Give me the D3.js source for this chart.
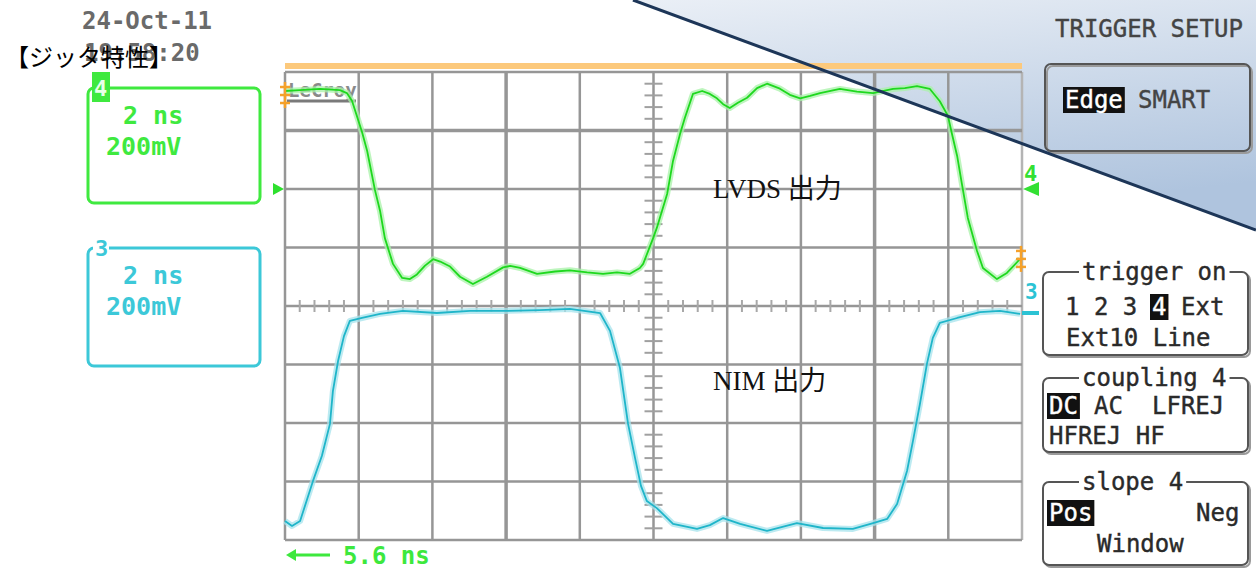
<!DOCTYPE html>
<html>
<head>
<meta charset="utf-8">
<script src="https://cdn.jsdelivr.net/npm/d3@7"></script>
<style>
  body { margin: 0; background: #fff; }
  svg { display: block; }
</style>
</head>
<body>
<svg id="scope"></svg>
<script>
// channel 4 (LVDS) : time in ns, volts in mV relative to its own ground
var ch4Time = [0.00, 0.41, 0.95, 1.49, 1.68, 1.82, 2.09, 2.23, 2.44, 2.58, 2.71, 2.93, 3.18, 3.39, 3.58, 3.80,
  4.02, 4.21, 4.48, 4.75, 5.10, 5.48, 5.92, 6.11, 6.38, 6.84, 7.33, 7.73, 8.20, 8.63, 9.01, 9.36, 9.63, 9.72,
  9.99, 10.09, 10.37, 10.53, 10.72, 10.85, 11.07, 11.32, 11.53, 11.72, 11.89, 12.07, 12.29, 12.54, 12.81,
  13.08, 13.43, 13.70, 13.98, 14.25, 14.52, 15.06, 15.52, 15.96, 16.50, 16.82, 17.15, 17.50, 17.77, 17.99,
  18.10, 18.24, 18.37, 18.53, 18.78, 18.94, 19.32, 19.59, 19.95];
var ch4Volt = [335, 338, 342, 338, 328, 301, 195, 130, -3, -75, -168, -256, -304, -308, -292, -262,
  -240, -248, -265, -300, -325, -300, -268, -263, -270, -290, -282, -278, -285, -290, -285, -290, -270, -256,
  -168, -133, -17, 96, 188, 243, 325, 335, 325, 310, 290, 277, 295, 312, 345,
  360, 343, 322, 310, 318, 328, 342, 333, 328, 342, 345, 352, 342, 300, 250,
  188, 113, 17, -99, -212, -270, -308, -287, -239];

// channel 3 (NIM)
var ch3Time = [0.00, 0.19, 0.41, 0.76, 1.00, 1.22, 1.30, 1.44, 1.60, 1.76, 2.09, 2.58, 3.20, 4.12, 5.02, 5.92,
  6.92, 7.73, 8.55, 8.82, 9.09, 9.31, 9.50, 9.66, 9.82, 10.09, 10.37, 10.53, 11.18, 11.53, 11.89, 12.35,
  13.08, 13.89, 14.60, 15.41, 15.96, 16.34, 16.61, 16.88, 17.04, 17.23, 17.42, 17.58, 17.77, 18.24, 18.86,
  19.40, 19.95];
var ch3Volt = [-735, -752, -735, -598, -513, -403, -291, -188, -103, -51, -41, -27, -17, -24, -17, -17,
  -14, -10, -24, -85, -212, -403, -520, -615, -667, -691, -725, -745, -762, -749, -725, -745,
  -769, -742, -759, -762, -742, -728, -677, -564, -462, -335, -198, -109, -58, -41, -21,
  -17, -27];

var ch4Offset = 400, ch3Offset = 0;     // mV on screen
var timeDiv = 2, voltDiv = 200;          // 2 ns/div, 200 mV/div
var xDivs = 10, yDivs = 8;
var trigLevel = -239;                    // ch4 trigger level, mV

var dateText = "24-Oct-11", clockText = "19:58:20";
var titleText = "【ジッタ特性】";
var traceNames = ["LVDS 出力", "NIM 出力"];
var chanLines = ["2 ns", "200mV"];
var delayText = "5.6 ns";

var width = 1256, height = 579;
var mono = "'DejaVu Sans Mono', monospace";

var svg = d3.select("#scope").attr("width", width).attr("height", height);

var x = d3.scaleLinear().domain([0, xDivs * timeDiv]).range([285, 1022]);
var y = d3.scaleLinear().domain([-yDivs / 2 * voltDiv, yDivs / 2 * voltDiv]).range([540, 72]);

// blue sheet behind the upper right
var defs = svg.append("defs");
var grad = defs.append("linearGradient").attr("id", "sky")
  .attr("x1", 0).attr("y1", 0).attr("x2", 0.3).attr("y2", 1);
grad.append("stop").attr("offset", 0).attr("stop-color", "#eaeff6");
grad.append("stop").attr("offset", 1).attr("stop-color", "#afc4de");

svg.append("path")
  .attr("d", "M633,0 L1256,0 L1256,230 Z")
  .attr("fill", "url(#sky)");

// orange bar over the grid
svg.append("rect")
  .attr("x", x(0)).attr("y", y(yDivs / 2 * voltDiv) - 9)
  .attr("width", x(xDivs * timeDiv) - x(0)).attr("height", 6)
  .attr("fill", "#fcc97c");

// grid
var grid = svg.append("g");
grid.selectAll(".vl").data(d3.range(0, xDivs + 1).map(function(i) { return i * timeDiv; }))
  .enter().append("line")
  .attr("x1", function(d) { return x(d); }).attr("x2", function(d) { return x(d); })
  .attr("y1", y(800)).attr("y2", y(-800))
  .attr("stroke", function(d, i) { return i == xDivs ? "#b4b4b4" : "#969696"; })
  .attr("stroke-width", function(d, i) { return (i == 3 || i == 8) ? 3.5 : 2.5; });

grid.selectAll(".hl").data(d3.range(0, yDivs + 1).map(function(i) { return (i - yDivs / 2) * voltDiv; }))
  .enter().append("line")
  .attr("x1", x(0)).attr("x2", x(20))
  .attr("y1", function(d) { return y(d); }).attr("y2", function(d) { return y(d); })
  .attr("stroke", "#969696")
  .attr("stroke-width", function(d, i) { return i == 7 ? 3.5 : 2.5; });

// minor ticks on the centre axes
grid.selectAll(".tx").data(d3.range(0, 20, timeDiv / 5).filter(function(d, i) { return i % 5; }))
  .enter().append("line")
  .attr("x1", function(d) { return x(d); }).attr("x2", function(d) { return x(d); })
  .attr("y1", y(0) - 6).attr("y2", y(0) + 6)
  .attr("stroke", "#a8a8a8").attr("stroke-width", 2);

grid.selectAll(".ty").data(d3.range(-800, 800, voltDiv / 5).filter(function(d, i) { return i % 5; }))
  .enter().append("line")
  .attr("x1", x(10) - 9).attr("x2", x(10) + 9)
  .attr("y1", function(d) { return y(d); }).attr("y2", function(d) { return y(d); })
  .attr("stroke", "#a0a0a0").attr("stroke-width", 2);

// LeCroy logo
svg.append("text").attr("x", x(0) + 3).attr("y", 97)
  .attr("font-family", mono).attr("font-weight", "bold").attr("font-size", 19)
  .attr("fill", "#8a8a8a").text("LeCroy");
svg.append("line").attr("x1", x(0) + 2).attr("x2", x(0) + 71).attr("y1", 101).attr("y2", 101)
  .attr("stroke", "#7a7a7a").attr("stroke-width", 3);

// traces
function trace(times, volts, offset, halo, core) {
  var pts = times.map(function(t, i) { return [t, volts[i] + offset]; });
  var line = d3.line().x(function(d) { return x(d[0]); }).y(function(d) { return y(d[1]); });
  svg.append("path").attr("d", line(pts)).attr("fill", "none")
    .attr("stroke", halo).attr("stroke-width", 6).attr("stroke-opacity", 0.75)
    .attr("stroke-linejoin", "round");
  svg.append("path").attr("d", line(pts)).attr("fill", "none")
    .attr("stroke", core).attr("stroke-width", 1.8).attr("stroke-linejoin", "round");
}
trace(ch3Time, ch3Volt, ch3Offset, "#a6e3ec", "#1fb5c9");
trace(ch4Time, ch4Volt, ch4Offset, "#a8f2a8", "#1ed81e");

// trigger markers
function trigMark(cx, cy) {
  var g = svg.append("g").attr("stroke", "#f5a12a").attr("stroke-width", 2.5);
  g.append("line").attr("x1", cx).attr("x2", cx).attr("y1", cy - 13).attr("y2", cy + 13);
  [-8, 0, 8].forEach(function(dy) {
    g.append("line").attr("x1", cx - 5).attr("x2", cx + 5).attr("y1", cy + dy).attr("y2", cy + dy);
  });
}
trigMark(x(0), y(ch4Volt[0] + ch4Offset) + 4);
trigMark(x(20) - 1, y(trigLevel + ch4Offset));

// channel ground markers
svg.append("path")
  .attr("d", "M" + (x(0) - 12) + "," + (y(ch4Offset) - 6) + " l11,6 l-11,6 Z")
  .attr("fill", "#2fe02f");
svg.append("text").attr("x", x(20) + 2).attr("y", y(ch4Offset) - 8)
  .attr("font-family", mono).attr("font-weight", "bold").attr("font-size", 22)
  .attr("fill", "#33e033").text("4");
svg.append("path")
  .attr("d", "M" + (x(20) + 1) + "," + y(ch4Offset) + " l16,-7 l0,14 Z")
  .attr("fill", "#33e033");
svg.append("text").attr("x", x(20) + 3).attr("y", y(ch3Offset) - 7)
  .attr("font-family", mono).attr("font-weight", "bold").attr("font-size", 21)
  .attr("fill", "#2cc3d4").text("3");
svg.append("rect").attr("x", x(20)).attr("y", y(ch3Offset) + 5).attr("width", 17).attr("height", 4)
  .attr("fill", "#2cc3d4");

// trace names
svg.append("text").attr("x", 713).attr("y", 198)
  .attr("font-family", "'Liberation Serif', 'Noto Sans CJK JP', serif").attr("font-size", 27)
  .attr("fill", "#111").text(traceNames[0]);
svg.append("text").attr("x", 713).attr("y", 390)
  .attr("font-family", "'Liberation Serif', 'Noto Sans CJK JP', serif").attr("font-size", 27)
  .attr("fill", "#111").text(traceNames[1]);

// date / time / title (the title sits over the clock, as in the capture)
svg.append("text").attr("x", 82).attr("y", 29)
  .attr("font-family", mono).attr("font-weight", "bold").attr("font-size", 24)
  .attr("fill", "#6a6a6a").text(dateText);
svg.append("text").attr("x", 84).attr("y", 61)
  .attr("font-family", mono).attr("font-weight", "bold").attr("font-size", 24)
  .attr("fill", "#6a6a6a").text(clockText);
svg.append("text").attr("x", 5).attr("y", 66)
  .attr("font-family", "'Noto Sans CJK JP', sans-serif").attr("font-size", 24)
  .attr("fill", "#000").text(titleText);

// channel boxes on the left
function chanBox(top, h, color, label, tab) {
  svg.append("rect").attr("x", 88).attr("y", top).attr("width", 172).attr("height", h)
    .attr("rx", 6).attr("fill", "none").attr("stroke", color).attr("stroke-width", 3);
  if (tab) {
    svg.append("rect").attr("x", 92).attr("y", top - 16).attr("width", 18).attr("height", 30).attr("fill", color);
    svg.append("text").attr("x", 94).attr("y", top + 8)
      .attr("font-family", mono).attr("font-weight", "bold").attr("font-size", 22)
      .attr("fill", "#e8ffe8").text(label);
  } else {
    svg.append("rect").attr("x", 93).attr("y", top - 3).attr("width", 16).attr("height", 8).attr("fill", "#fff");
    svg.append("text").attr("x", 95).attr("y", top + 8)
      .attr("font-family", mono).attr("font-weight", "bold").attr("font-size", 22)
      .attr("fill", color).text(label);
  }
  svg.append("text").attr("x", 123).attr("y", top + 36)
    .attr("font-family", mono).attr("font-weight", "bold").attr("font-size", 25)
    .attr("fill", color).text(chanLines[0]);
  svg.append("text").attr("x", 106).attr("y", top + 67)
    .attr("font-family", mono).attr("font-weight", "bold").attr("font-size", 25)
    .attr("fill", color).text(chanLines[1]);
}
chanBox(88, 115, "#3fe93f", "4", true);
chanBox(248, 118, "#3cc8d8", "3", false);

// delay readout
svg.append("line").attr("x1", 290).attr("x2", 330).attr("y1", 555).attr("y2", 555)
  .attr("stroke", "#3de83d").attr("stroke-width", 3);
svg.append("path").attr("d", "M286,555 l10,-6 l0,12 Z").attr("fill", "#3de83d");
svg.append("text").attr("x", 343).attr("y", 564)
  .attr("font-family", mono).attr("font-weight", "bold").attr("font-size", 24)
  .attr("fill", "#3de83d").text(delayText);

// trigger menu on the right
var ink = "#2a2a2a";
function txt(tx, ty, s, fill) {
  return svg.append("text").attr("x", tx).attr("y", ty)
    .attr("font-family", mono).attr("font-size", 24)
    .attr("fill", fill || ink).attr("stroke", fill || ink).attr("stroke-width", 0.4)
    .text(s);
}
function hi(tx, ty, s) {
  svg.append("rect").attr("x", tx - 2).attr("y", ty - 21).attr("width", s.length * 14.45 + 4).attr("height", 26)
    .attr("fill", "#111");
  txt(tx, ty, s, "#fff");
}
function panel(px, py, pw, ph, title) {
  svg.append("rect").attr("x", px + 2).attr("y", py + 2).attr("width", pw).attr("height", ph)
    .attr("rx", 6).attr("fill", "none").attr("stroke", "#9a9a9a").attr("stroke-width", 2);
  svg.append("rect").attr("x", px).attr("y", py).attr("width", pw).attr("height", ph)
    .attr("rx", 6).attr("fill", title ? "#fff" : "none").attr("stroke", "#555").attr("stroke-width", 2);
  if (title) {
    svg.append("rect").attr("x", px + 36).attr("y", py - 4).attr("width", title.length * 14.45 + 6).attr("height", 8)
      .attr("fill", "#fff");
    txt(px + 39, py + 8, title);
  }
}

txt(1055, 37, "TRIGGER SETUP", "#444");
panel(1045, 64, 205, 87, null);
hi(1065, 108, "Edge");
txt(1138, 108, "SMART", "#444");

panel(1043, 272, 205, 83, "trigger on");
txt(1065, 315, "1 2 3");
hi(1152, 315, "4");
txt(1181, 315, "Ext");
txt(1066, 346, "Ext10 Line");

panel(1043, 378, 205, 74, "coupling 4");
hi(1049, 414, "DC");
txt(1094, 414, "AC");
txt(1152, 414, "LFREJ");
txt(1049, 444, "HFREJ HF");

panel(1043, 482, 205, 83, "slope 4");
hi(1049, 521, "Pos");
txt(1196, 521, "Neg");
txt(1097, 552, "Window");

// dark edge of the blue sheet
svg.append("line").attr("x1", 633).attr("y1", 0).attr("x2", 1256).attr("y2", 230)
  .attr("stroke", "#1d3658").attr("stroke-width", 3);
</script>
</body>
</html>
